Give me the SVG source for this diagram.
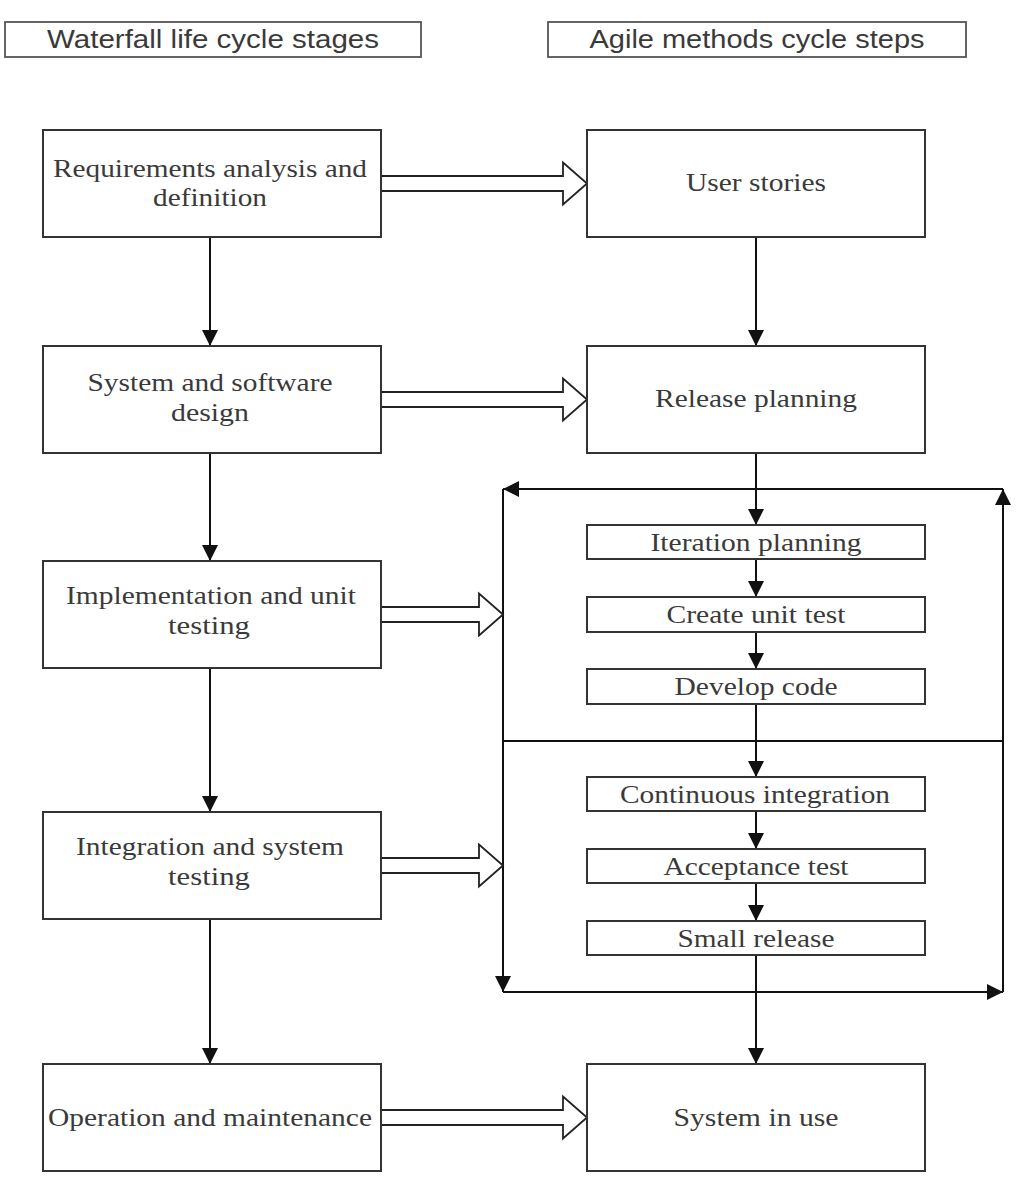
<svg xmlns="http://www.w3.org/2000/svg" width="1027" height="1178" viewBox="0 0 1027 1178">
<defs>
<style>
.box{fill:#fff;stroke:#333;stroke-width:2}
.hdr{fill:#fff;stroke:#555;stroke-width:1.8}
.t{font-family:"Liberation Serif","Times New Roman",serif;font-size:26px;fill:#3a3a3a;text-anchor:middle}
.h{font-family:"Liberation Sans",Arial,sans-serif;font-size:25px;fill:#3a3a3a;text-anchor:middle}
.ln{fill:none;stroke:#111;stroke-width:2}
.hollow{fill:#fff;stroke:#222;stroke-width:1.8;stroke-linejoin:miter}
</style>
<marker id="ah" viewBox="0 0 16 20" markerWidth="16" markerHeight="20" refX="16" refY="10" orient="auto" markerUnits="userSpaceOnUse">
<path d="M0,2 L16,10 L0,18 Z" fill="#111"/>
</marker>
</defs>
<rect width="1027" height="1178" fill="#fff"/>

<g id="header-waterfall">
<rect class="hdr" x="5" y="22" width="416" height="35"/>
<text class="h" x="213" y="48" textLength="332" lengthAdjust="spacingAndGlyphs">Waterfall life cycle stages</text>
</g>
<g id="header-agile">
<rect class="hdr" x="548" y="22" width="418" height="35"/>
<text class="h" x="757" y="48" textLength="335" lengthAdjust="spacingAndGlyphs">Agile methods cycle steps</text>
</g>

<g id="connectors">
<line class="ln" x1="210" y1="237" x2="210" y2="346" marker-end="url(#ah)"/>
<line class="ln" x1="210" y1="453" x2="210" y2="561" marker-end="url(#ah)"/>
<line class="ln" x1="210" y1="668" x2="210" y2="812" marker-end="url(#ah)"/>
<line class="ln" x1="210" y1="919" x2="210" y2="1064" marker-end="url(#ah)"/>
<line class="ln" x1="756" y1="237" x2="756" y2="346" marker-end="url(#ah)"/>
<line class="ln" x1="756" y1="453" x2="756" y2="525" marker-end="url(#ah)"/>
<line class="ln" x1="756" y1="559" x2="756" y2="597" marker-end="url(#ah)"/>
<line class="ln" x1="756" y1="632" x2="756" y2="669" marker-end="url(#ah)"/>
<line class="ln" x1="756" y1="704" x2="756" y2="777" marker-end="url(#ah)"/>
<line class="ln" x1="756" y1="811" x2="756" y2="849" marker-end="url(#ah)"/>
<line class="ln" x1="756" y1="883" x2="756" y2="921" marker-end="url(#ah)"/>
<line class="ln" x1="756" y1="955" x2="756" y2="1064" marker-end="url(#ah)"/>
<line class="ln" x1="1003" y1="489" x2="503" y2="489" marker-end="url(#ah)"/>
<line class="ln" x1="503" y1="489" x2="503" y2="992" marker-end="url(#ah)"/>
<line class="ln" x1="503" y1="992" x2="1003" y2="992" marker-end="url(#ah)"/>
<line class="ln" x1="1003" y1="992" x2="1003" y2="489" marker-end="url(#ah)"/>
<line class="ln" x1="503" y1="741" x2="1003" y2="741"/>
<polygon class="hollow" points="381,176 563,176 563,162.5 587,183.5 563,204.5 563,191 381,191"/>
<polygon class="hollow" points="381,392 563,392 563,378.5 587,399.5 563,420.5 563,407 381,407"/>
<polygon class="hollow" points="381,607 479,607 479,593.5 503,614.5 479,635.5 479,622 381,622"/>
<polygon class="hollow" points="381,858 479,858 479,844.5 503,865.5 479,886.5 479,873 381,873"/>
<polygon class="hollow" points="381,1110 563,1110 563,1096.5 587,1117.5 563,1138.5 563,1125 381,1125"/>
</g>

<g id="req">
<rect class="box" x="43" y="130" width="338" height="107"/>
<text class="t" x="210" y="177" textLength="314" lengthAdjust="spacingAndGlyphs">Requirements analysis and</text>
<text class="t" x="210" y="206" textLength="114" lengthAdjust="spacingAndGlyphs">definition</text>
</g>
<g id="design">
<rect class="box" x="43" y="346" width="338" height="107"/>
<text class="t" x="210" y="391" textLength="245" lengthAdjust="spacingAndGlyphs">System and software</text>
<text class="t" x="210" y="421" textLength="78" lengthAdjust="spacingAndGlyphs">design</text>
</g>
<g id="impl">
<rect class="box" x="43" y="561" width="338" height="107"/>
<text class="t" x="211" y="604" textLength="290" lengthAdjust="spacingAndGlyphs">Implementation and unit</text>
<text class="t" x="209" y="634" textLength="82" lengthAdjust="spacingAndGlyphs">testing</text>
</g>
<g id="integ">
<rect class="box" x="43" y="812" width="338" height="107"/>
<text class="t" x="210" y="855" textLength="268" lengthAdjust="spacingAndGlyphs">Integration and system</text>
<text class="t" x="209" y="885" textLength="82" lengthAdjust="spacingAndGlyphs">testing</text>
</g>
<g id="ops">
<rect class="box" x="43" y="1064" width="338" height="107"/>
<text class="t" x="210" y="1126" textLength="324" lengthAdjust="spacingAndGlyphs">Operation and maintenance</text>
</g>

<g id="stories">
<rect class="box" x="587" y="130" width="338" height="107"/>
<text class="t" x="756" y="191" textLength="140" lengthAdjust="spacingAndGlyphs">User stories</text>
</g>
<g id="release">
<rect class="box" x="587" y="346" width="338" height="107"/>
<text class="t" x="756" y="407" textLength="202" lengthAdjust="spacingAndGlyphs">Release planning</text>
</g>
<g id="iter">
<rect class="box" x="587" y="525" width="338" height="34"/>
<text class="t" x="756" y="551" textLength="211" lengthAdjust="spacingAndGlyphs">Iteration planning</text>
</g>
<g id="unittest">
<rect class="box" x="587" y="597" width="338" height="35"/>
<text class="t" x="756" y="623" textLength="179" lengthAdjust="spacingAndGlyphs">Create unit test</text>
</g>
<g id="code">
<rect class="box" x="587" y="669" width="338" height="35"/>
<text class="t" x="756" y="695" textLength="163" lengthAdjust="spacingAndGlyphs">Develop code</text>
</g>
<g id="ci">
<rect class="box" x="587" y="777" width="338" height="34"/>
<text class="t" x="755" y="803" textLength="270" lengthAdjust="spacingAndGlyphs">Continuous integration</text>
</g>
<g id="accept">
<rect class="box" x="587" y="849" width="338" height="34"/>
<text class="t" x="756" y="875" textLength="185" lengthAdjust="spacingAndGlyphs">Acceptance test</text>
</g>
<g id="small">
<rect class="box" x="587" y="921" width="338" height="34"/>
<text class="t" x="756" y="947" textLength="157" lengthAdjust="spacingAndGlyphs">Small release</text>
</g>
<g id="inuse">
<rect class="box" x="587" y="1064" width="338" height="107"/>
<text class="t" x="756" y="1126" textLength="165" lengthAdjust="spacingAndGlyphs">System in use</text>
</g>
</svg>
